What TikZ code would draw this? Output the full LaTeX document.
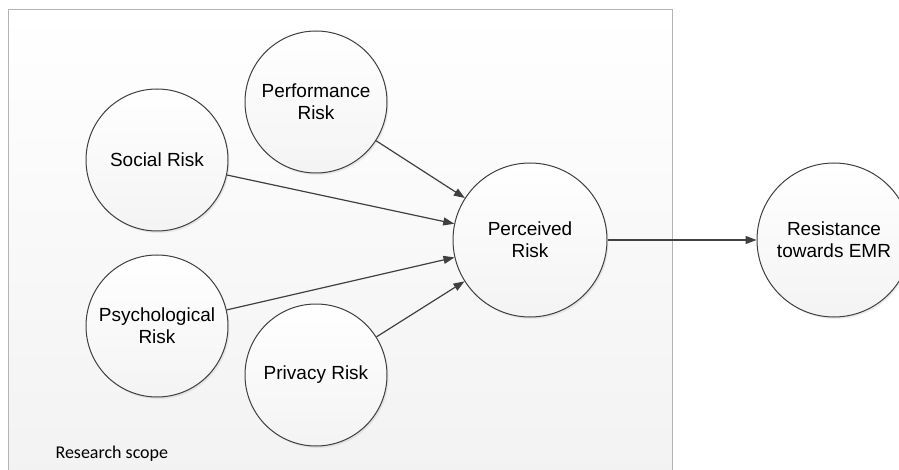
\documentclass[tikz,border=0pt]{standalone}
\usepackage{fontspec}
\setmainfont{Liberation Sans}
\newfontfamily\notefont{Carlito}
\usetikzlibrary{arrows.meta,shadows}
\definecolor{edgegray}{HTML}{404040}
\definecolor{framegray}{HTML}{B4B4B4}
\begin{document}
\begin{tikzpicture}[x=1pt, y=-1pt,
    riskcircle/.style={circle, draw=edgegray, line width=1pt, minimum size=142pt,
        top color=white, bottom color=gray!9, align=center,
        font=\fontsize{19}{22}\selectfont,
        drop shadow={opacity=0.15, shadow xshift=1.5pt, shadow yshift=-2pt}},
    link/.style={draw=edgegray, line width=1.2pt, -{Triangle[length=11pt, width=8pt]}}]
    \useasboundingbox (0,0) rectangle (899,470);

    % Research scope frame
    \draw[framegray, line width=1pt, top color=white, bottom color=gray!10] (8,10) rectangle (672,474);
    \node[anchor=west, font=\notefont\fontsize{18}{21}\selectfont] (scope) at (52,454) {Research scope};

    % Draw nodes
    \node[riskcircle] (perf) at (316,102) {Performance\\Risk};
    \node[riskcircle] (social) at (157,160) {Social Risk};
    \node[riskcircle] (psych) at (157,326) {Psychological\\Risk};
    \node[riskcircle] (priv) at (316,375) {Privacy Risk};
    \node[riskcircle, minimum size=154pt] (perceived) at (530,240) {Perceived\\Risk};
    \node[riskcircle, minimum size=154pt] (resist) at (834,240) {Resistance\\towards EMR};

    % Draw edges
    \draw[link] (perf) -- (perceived);
    \draw[link] (social) -- (perceived);
    \draw[link] (psych) -- (perceived);
    \draw[link] (priv) -- (perceived);
    \draw[link] (perceived) -- (resist);
\end{tikzpicture}
\end{document}
